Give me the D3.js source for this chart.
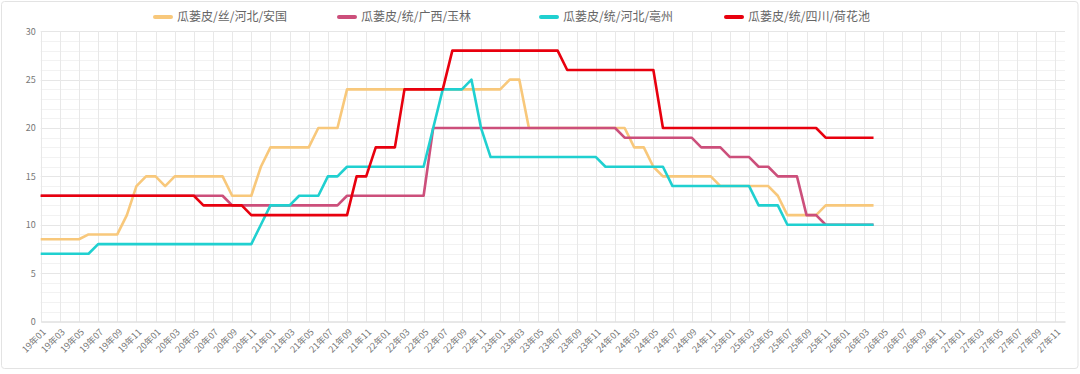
<!DOCTYPE html>
<html lang="zh">
<head>
<meta charset="utf-8">
<title>瓜蒌皮价格走势</title>
<script src="https://d3js.org/d3.v7.min.js"></script>
<style>
  html, body { margin: 0; padding: 0; background: #fff; }
  svg text { font-family: "Noto Sans CJK SC", "Noto Sans", sans-serif; }
</style>
</head>
<body>
<div id="chart"></div>
<script>
// month categories 19年01 .. 27年12
var months = [];
for (var yy = 19; yy <= 27; yy++) {
  for (var mm = 1; mm <= 12; mm++) {
    months.push(yy + "年" + (mm < 10 ? "0" + mm : mm));
  }
}

var seriesNames = ["瓜蒌皮/丝/河北/安国", "瓜蒌皮/统/广西/玉林", "瓜蒌皮/统/河北/亳州", "瓜蒌皮/统/四川/荷花池"];
var seriesColors = ["#f8c87b", "#cc4f7b", "#20d0d0", "#e8000e"];

// 19年01 .. 26年04, one value per month
var anguo = [8.5,8.5,8.5,8.5,8.5, 9,9,9,9, 11, 14, 15,15, 14, 15,15,15,15,15,15,
  13,13,13, 16, 18,18,18,18,18, 20,20,20,
  24,24,24,24,24,24,24,24,24,24,24,24,24,24,24,24,24, 25,25,
  20,20,20,20,20,20,20,20,20,20,20, 18,18, 16,
  15,15,15,15,15,15, 14,14,14,14,14,14, 13, 11,11,11,11, 12,12,12,12,12,12];

var yulin = [13,13,13,13,13,13,13,13,13,13,13,13,13,13,13,13,13,13,13,13,
  12,12,12,12,12,12,12,12,12,12,12,12,
  13,13,13,13,13,13,13,13,13,
  20,20,20,20,20,20,20,20,20,20,20,20,20,20,20,20,20,20,20,20,
  19,19,19,19,19,19,19,19, 18,18,18, 17,17,17, 16,16, 15,15,15, 11,11,
  10,10,10,10,10,10];

var bozhou = [7,7,7,7,7,7,
  8,8,8,8,8,8,8,8,8,8,8,8,8,8,8,8,8,
  10, 12,12,12, 13,13,13, 15,15,
  16,16,16,16,16,16,16,16,16, 20, 24,24,24, 25, 20,
  17,17,17,17,17,17,17,17,17,17,17,17,
  16,16,16,16,16,16,16,
  14,14,14,14,14,14,14,14,14, 12,12,12,
  10,10,10,10,10,10,10,10,10,10];

var hehuachi = [13,13,13,13,13,13,13,13,13,13,13,13,13,13,13,13,13,
  12,12,12,12,12,
  11,11,11,11,11,11,11,11,11,11,11,
  15,15, 18,18,18, 24,24,24,24,24,
  28,28,28,28,28,28,28,28,28,28,28,28,
  26,26,26,26,26,26,26,26,26,26,
  20,20,20,20,20,20,20,20,20,20,20,20,20,20,20,20,20,
  19,19,19,19,19,19];

var seriesValues = [anguo, yulin, bozhou, hehuachi];
var yTicks = [0, 5, 10, 15, 20, 25, 30];

var W = 1080, H = 374;
var plotL = 40.7, plotR = 1065, plotT = 31.3, plotB = 321.5;

var svg = d3.select("#chart").append("svg")
  .attr("width", W).attr("height", H);

// card frame
svg.append("rect")
  .attr("x", 1.5).attr("y", 1.5)
  .attr("width", W - 3.5).attr("height", 367)
  .attr("rx", 3)
  .attr("fill", "#fff")
  .attr("stroke", "#e3e3e3");

var x = d3.scalePoint().domain(months).range([plotL, plotR]);
var y = d3.scaleLinear().domain([0, 30]).range([plotB, plotT]);

// minor horizontal grid
svg.append("g").selectAll("line")
  .data(d3.range(1, 30).filter(function(v) { return v % 5 != 0; }))
  .enter().append("line")
    .attr("x1", plotL).attr("x2", plotR)
    .attr("y1", function(d) { return Math.round(y(d)) + 0.5; })
    .attr("y2", function(d) { return Math.round(y(d)) + 0.5; })
    .attr("stroke", "#f2f2f2");

// major horizontal grid
svg.append("g").selectAll("line")
  .data(yTicks.slice(1))
  .enter().append("line")
    .attr("x1", plotL).attr("x2", plotR)
    .attr("y1", function(d) { return Math.round(y(d)) + 0.5; })
    .attr("y2", function(d) { return Math.round(y(d)) + 0.5; })
    .attr("stroke", "#e6e6e6");

// vertical grid every 2 months
var labelled = months.filter(function(d, i) { return i % 2 == 0; });
svg.append("g").selectAll("line")
  .data(labelled)
  .enter().append("line")
    .attr("x1", function(d) { return Math.round(x(d)) + 0.5; })
    .attr("x2", function(d) { return Math.round(x(d)) + 0.5; })
    .attr("y1", plotT).attr("y2", plotB)
    .attr("stroke", "#e8e8e8");

// y axis labels
var yAxis = svg.append("g")
  .attr("transform", "translate(" + (plotL - 5) + ",0)")
  .call(d3.axisLeft(y).tickValues(yTicks).tickSize(0).tickPadding(0));
yAxis.select(".domain").remove();
yAxis.selectAll("text").attr("fill", "#777").style("font-size", "9px");

// x axis
var xAxis = svg.append("g")
  .attr("transform", "translate(0," + plotB + ")")
  .call(d3.axisBottom(x).tickValues(labelled).tickSize(0).tickPadding(4));
xAxis.select(".domain").attr("stroke", "#d0d0d0");
xAxis.selectAll("text")
  .attr("fill", "#777")
  .style("font-size", "9px")
  .attr("y", 0).attr("dy", "0.35em")
  .attr("transform", "translate(3,9) rotate(-45)")
  .style("text-anchor", "end");

// lines
var line = d3.line()
  .x(function(d, i) { return x(months[i]); })
  .y(function(d) { return y(d); });

svg.append("g").selectAll("path")
  .data(seriesValues)
  .enter().append("path")
    .attr("d", line)
    .attr("fill", "none")
    .attr("stroke", function(d, i) { return seriesColors[i]; })
    .attr("stroke-width", 2.6)
    .attr("stroke-linejoin", "round");

// legend
var legendX = [153, 337, 539, 724];
var legend = svg.append("g").selectAll("g")
  .data(seriesNames)
  .enter().append("g")
    .attr("transform", function(d, i) { return "translate(" + legendX[i] + ",17)"; });
legend.append("line")
  .attr("x1", 2).attr("x2", 18)
  .attr("stroke", function(d, i) { return seriesColors[i]; })
  .attr("stroke-width", 4)
  .attr("stroke-linecap", "round");
legend.append("text")
  .attr("x", 24).attr("dy", "0.35em")
  .attr("fill", "#666")
  .style("font-size", "12px")
  .text(function(d) { return d; });
</script>
</body>
</html>
